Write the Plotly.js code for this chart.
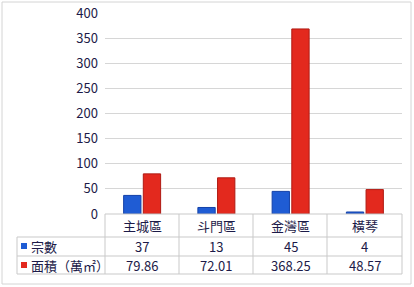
<!DOCTYPE html>
<html>
<head>
<meta charset="utf-8">
<script src="https://cdn.plot.ly/plotly-3.0.1.min.js"></script>
<style>html,body{margin:0;padding:0;background:#fff;}#chart{width:414px;height:287px;}</style>
</head>
<body>
<div id="chart"></div>
<script>
const categories = ['主城區', '斗門區', '金灣區', '橫琴'];
const seriesNames = ['宗數', '面積（萬㎡）'];
const countValues = [37, 13, 45, 4];
const areaValues = [79.86, 72.01, 368.25, 48.57];
const countLabels = ['37', '13', '45', '4'];
const areaLabels = ['79.86', '72.01', '368.25', '48.57'];
const yTicks = [0, 50, 100, 150, 200, 250, 300, 350, 400];

const W = 414, H = 287;
const L = 105, R = 402, T = 13, B = 214;
const px = x => (x - L) / (R - L);
const py = y => (B - y) / (B - T);

const FONT = '"Noto Sans CJK TC", "Noto Sans", sans-serif';
const TXT = '#1c1a48';
const LINE = '#c9c9c9';
const BLUE = '#1f5cd4', BLUE_E = '#1340a8';
const RED = '#e3291e', RED_E = '#b01a12';

const traces = [
  {type: 'bar', name: seriesNames[0], x: categories, y: countValues,
   marker: {color: BLUE, line: {color: BLUE_E, width: 1}}, hoverinfo: 'none'},
  {type: 'bar', name: seriesNames[1], x: categories, y: areaValues,
   marker: {color: RED, line: {color: RED_E, width: 1}}, hoverinfo: 'none'}
];

const shapes = [];
const line = (x0, y0, x1, y1, color) => shapes.push({type: 'line', xref: 'paper', yref: 'paper',
  x0: px(x0), y0: py(y0), x1: px(x1), y1: py(y1), line: {color: color || LINE, width: 1}, layer: 'above'});

// outer border
shapes.push({type: 'rect', xref: 'paper', yref: 'paper', x0: px(2), y0: py(284), x1: px(411), y1: py(2),
  line: {color: '#d4d4d4', width: 1}, layer: 'below'});

// table lines
const rowY = [214, 237, 256, 274];
line(105, 214, 402, 214);
for (let i = 1; i < rowY.length; i++) line(17, rowY[i], 402, rowY[i]);
line(17, 237, 17, 274);
[105, 179, 253, 327, 402].forEach(x => line(x, 214, x, 274));

// legend keys
shapes.push({type: 'rect', xref: 'paper', yref: 'paper', x0: px(21), x1: px(27), y0: py(249), y1: py(243),
  fillcolor: BLUE, line: {width: 0}});
shapes.push({type: 'rect', xref: 'paper', yref: 'paper', x0: px(21), x1: px(27), y0: py(268), y1: py(262),
  fillcolor: RED, line: {width: 0}});

const annotations = [];
const ann = (text, x, xref, y, xanchor) => annotations.push({text, x, xref, y: py(y), yref: 'paper',
  xanchor: xanchor || 'center', yanchor: 'middle', showarrow: false,
  font: {family: FONT, size: 13, color: TXT}});
categories.forEach((c, i) => {
  ann(c, c, 'x', 225.5);
  ann(countLabels[i], c, 'x', 246.5);
  ann(areaLabels[i], c, 'x', 265);
});
ann(seriesNames[0], px(29), 'paper', 246.5, 'left');
ann(seriesNames[1], px(29), 'paper', 265, 'left');

const layout = {
  width: W, height: H,
  margin: {l: L, r: W - R, t: T, b: H - B, pad: 0},
  paper_bgcolor: '#fff', plot_bgcolor: '#fff',
  showlegend: false,
  barmode: 'group', bargap: 0.47, bargroupgap: 0.12,
  font: {family: FONT, size: 13, color: TXT},
  xaxis: {type: 'category', showticklabels: false, showgrid: false, zeroline: false, showline: false, ticks: ''},
  yaxis: {range: [0, 400], tickvals: yTicks, showgrid: true, gridcolor: '#d6d6d6', gridwidth: 1,
    zeroline: false, showline: false, ticks: '', ticklabelstandoff: 6,
    tickfont: {family: FONT, size: 13, color: TXT}},
  shapes, annotations
};

Plotly.newPlot('chart', traces, layout, {displayModeBar: false, staticPlot: true});
</script>
</body>
</html>
